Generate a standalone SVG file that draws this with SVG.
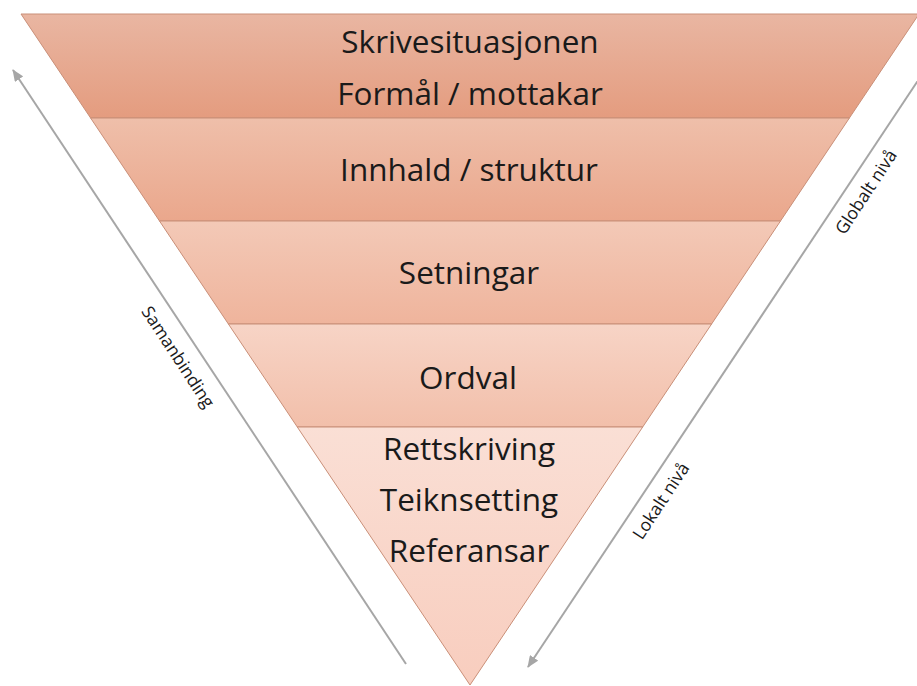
<svg xmlns="http://www.w3.org/2000/svg" width="917" height="686" viewBox="0 0 917 686">
  <style>
    .band { stroke: #c98f78; stroke-width: 1; }
    .main { font-family: "Open Sans", "Liberation Sans", sans-serif; font-size: 31.5px; fill: #1a1a1a; text-anchor: middle; }
    .side { font-family: "Open Sans", "Liberation Sans", sans-serif; font-size: 17.5px; fill: #1a1a1a; text-anchor: middle; }
    .conn { stroke: #a6a6a6; stroke-width: 2; fill: none; }
  </style>
  <defs>
    <linearGradient id="g1" x1="0" y1="0" x2="0" y2="1"><stop offset="0" stop-color="#e9b6a2"/><stop offset="1" stop-color="#e49c7f"/></linearGradient>
    <linearGradient id="g2" x1="0" y1="0" x2="0" y2="1"><stop offset="0" stop-color="#efbfaa"/><stop offset="1" stop-color="#eaa78c"/></linearGradient>
    <linearGradient id="g3" x1="0" y1="0" x2="0" y2="1"><stop offset="0" stop-color="#f3c9b7"/><stop offset="1" stop-color="#efb49c"/></linearGradient>
    <linearGradient id="g4" x1="0" y1="0" x2="0" y2="1"><stop offset="0" stop-color="#f7d4c6"/><stop offset="1" stop-color="#f2bfaa"/></linearGradient>
    <linearGradient id="g5" x1="0" y1="0" x2="0" y2="1"><stop offset="0" stop-color="#fadfd5"/><stop offset="1" stop-color="#f8cdbe"/></linearGradient>
    <marker id="ah" viewBox="0 0 12 10" refX="11" refY="5" markerWidth="12" markerHeight="10" markerUnits="userSpaceOnUse" orient="auto">
      <path d="M0,0 L12,5 L0,10 Z" fill="#a6a6a6"/>
    </marker>
  </defs>

  <g id="band1">
    <polygon class="band" points="21,14 919,14 849.4,118 90.6,118" fill="url(#g1)"/>
    <text class="main" x="470" y="53">Skrivesituasjonen</text>
    <text class="main" x="470" y="105">Formål / mottakar</text>
  </g>
  <g id="band2">
    <polygon class="band" points="90.6,118 849.4,118 780.5,221 159.5,221" fill="url(#g2)"/>
    <text class="main" x="469" y="181">Innhald / struktur</text>
  </g>
  <g id="band3">
    <polygon class="band" points="159.5,221 780.5,221 711.6,324 228.4,324" fill="url(#g3)"/>
    <text class="main" x="469" y="284">Setningar</text>
  </g>
  <g id="band4">
    <polygon class="band" points="228.4,324 711.6,324 642.7,427 297.3,427" fill="url(#g4)"/>
    <text class="main" x="468" y="389">Ordval</text>
  </g>
  <g id="band5">
    <polygon class="band" points="297.3,427 642.7,427 470,685" fill="url(#g5)"/>
    <text class="main" x="469" y="460">Rettskriving</text>
    <text class="main" x="469" y="511">Teiknsetting</text>
    <text class="main" x="469" y="562">Referansar</text>
  </g>

  <g id="connectors">
    <line class="conn" x1="406" y1="664" x2="13" y2="70" marker-end="url(#ah)"/>
    <line class="conn" x1="921" y1="76" x2="528" y2="667" marker-end="url(#ah)"/>
  </g>

  <g id="label-samanbinding">
    <text class="side" transform="translate(178,357) rotate(56.7)" y="6">Samanbinding</text>
  </g>
  <g id="label-globalt">
    <text class="side" transform="translate(866,192) rotate(-56.7)" y="6">Globalt nivå</text>
  </g>
  <g id="label-lokalt">
    <text class="side" transform="translate(661,501) rotate(-56.7)" y="6">Lokalt nivå</text>
  </g>
</svg>
